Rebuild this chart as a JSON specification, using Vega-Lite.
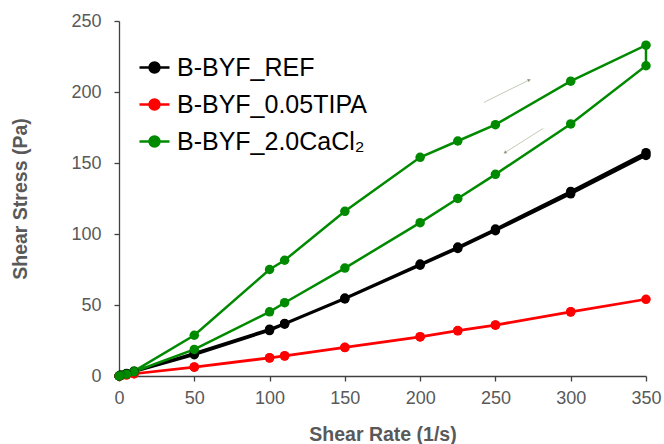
{
  "$schema": "https://vega.github.io/schema/vega-lite/v6.json",
  "width": 527,
  "height": 355,
  "autosize": {"type": "none"},
  "padding": {"left": 119, "top": 21, "right": 18, "bottom": 68},
  "background": "white",
  "config": {
    "view": {"stroke": null},
    "font": "Liberation Sans",
    "axis": {
      "grid": false,
      "labelFlush": false,
      "domainColor": "#404040",
      "domainWidth": 1.3,
      "tickColor": "#404040",
      "tickWidth": 1.3,
      "tickSize": 5,
      "labelFont": "Liberation Sans",
      "labelFontSize": 18,
      "labelColor": "#595959",
      "titleFont": "Liberation Sans",
      "titleFontSize": 19.5,
      "titleFontWeight": "bold",
      "titleColor": "#595959"
    }
  },
  "datasets": {
    "curves": [
      {"series": "B-BYF_REF", "order": 1, "x": 0.1, "y": 0},
      {"series": "B-BYF_REF", "order": 2, "x": 1, "y": 0.5},
      {"series": "B-BYF_REF", "order": 3, "x": 5, "y": 1.6},
      {"series": "B-BYF_REF", "order": 4, "x": 10, "y": 3},
      {"series": "B-BYF_REF", "order": 5, "x": 50, "y": 15},
      {"series": "B-BYF_REF", "order": 6, "x": 100, "y": 32},
      {"series": "B-BYF_REF", "order": 7, "x": 110, "y": 36.5},
      {"series": "B-BYF_REF", "order": 8, "x": 150, "y": 54.3},
      {"series": "B-BYF_REF", "order": 9, "x": 200, "y": 78},
      {"series": "B-BYF_REF", "order": 10, "x": 225, "y": 89.8},
      {"series": "B-BYF_REF", "order": 11, "x": 250, "y": 102.3},
      {"series": "B-BYF_REF", "order": 12, "x": 300, "y": 128.3},
      {"series": "B-BYF_REF", "order": 13, "x": 350, "y": 155.3},
      {"series": "B-BYF_REF", "order": 14, "x": 350, "y": 157.3},
      {"series": "B-BYF_REF", "order": 15, "x": 300, "y": 130},
      {"series": "B-BYF_REF", "order": 16, "x": 250, "y": 103.5},
      {"series": "B-BYF_REF", "order": 17, "x": 225, "y": 90.8},
      {"series": "B-BYF_REF", "order": 18, "x": 200, "y": 78.8},
      {"series": "B-BYF_REF", "order": 19, "x": 150, "y": 54.9},
      {"series": "B-BYF_REF", "order": 20, "x": 110, "y": 37},
      {"series": "B-BYF_REF", "order": 21, "x": 100, "y": 33},
      {"series": "B-BYF_REF", "order": 22, "x": 50, "y": 16},
      {"series": "B-BYF_REF", "order": 23, "x": 10, "y": 3.2},
      {"series": "B-BYF_REF", "order": 24, "x": 5, "y": 1.7},
      {"series": "B-BYF_REF", "order": 25, "x": 1, "y": 0.5},
      {"series": "B-BYF_REF", "order": 26, "x": 0.1, "y": 0},

      {"series": "B-BYF_0.05TIPA", "order": 1, "x": 0.1, "y": 0},
      {"series": "B-BYF_0.05TIPA", "order": 2, "x": 1, "y": 0.2},
      {"series": "B-BYF_0.05TIPA", "order": 3, "x": 5, "y": 0.8},
      {"series": "B-BYF_0.05TIPA", "order": 4, "x": 10, "y": 1.6},
      {"series": "B-BYF_0.05TIPA", "order": 5, "x": 50, "y": 6.2},
      {"series": "B-BYF_0.05TIPA", "order": 6, "x": 100, "y": 12.6},
      {"series": "B-BYF_0.05TIPA", "order": 7, "x": 110, "y": 14},
      {"series": "B-BYF_0.05TIPA", "order": 8, "x": 150, "y": 20},
      {"series": "B-BYF_0.05TIPA", "order": 9, "x": 200, "y": 27.5},
      {"series": "B-BYF_0.05TIPA", "order": 10, "x": 225, "y": 31.8},
      {"series": "B-BYF_0.05TIPA", "order": 11, "x": 250, "y": 35.8},
      {"series": "B-BYF_0.05TIPA", "order": 12, "x": 300, "y": 45},
      {"series": "B-BYF_0.05TIPA", "order": 13, "x": 350, "y": 54},
      {"series": "B-BYF_0.05TIPA", "order": 14, "x": 300, "y": 45.3},
      {"series": "B-BYF_0.05TIPA", "order": 15, "x": 250, "y": 36},
      {"series": "B-BYF_0.05TIPA", "order": 16, "x": 225, "y": 32},
      {"series": "B-BYF_0.05TIPA", "order": 17, "x": 200, "y": 27.7},
      {"series": "B-BYF_0.05TIPA", "order": 18, "x": 150, "y": 20.2},
      {"series": "B-BYF_0.05TIPA", "order": 19, "x": 110, "y": 14.3},
      {"series": "B-BYF_0.05TIPA", "order": 20, "x": 100, "y": 12.9},
      {"series": "B-BYF_0.05TIPA", "order": 21, "x": 50, "y": 6.4},
      {"series": "B-BYF_0.05TIPA", "order": 22, "x": 10, "y": 1.6},
      {"series": "B-BYF_0.05TIPA", "order": 23, "x": 5, "y": 0.8},
      {"series": "B-BYF_0.05TIPA", "order": 24, "x": 1, "y": 0.2},
      {"series": "B-BYF_0.05TIPA", "order": 25, "x": 0.1, "y": 0},

      {"series": "B-BYF_2.0CaCl₂", "order": 1, "x": 0.1, "y": 0},
      {"series": "B-BYF_2.0CaCl₂", "order": 2, "x": 1, "y": 0.5},
      {"series": "B-BYF_2.0CaCl₂", "order": 3, "x": 5, "y": 1.6},
      {"series": "B-BYF_2.0CaCl₂", "order": 4, "x": 10, "y": 3.5},
      {"series": "B-BYF_2.0CaCl₂", "order": 5, "x": 50, "y": 28.7},
      {"series": "B-BYF_2.0CaCl₂", "order": 6, "x": 100, "y": 75},
      {"series": "B-BYF_2.0CaCl₂", "order": 7, "x": 110, "y": 81.5},
      {"series": "B-BYF_2.0CaCl₂", "order": 8, "x": 150, "y": 116},
      {"series": "B-BYF_2.0CaCl₂", "order": 9, "x": 200, "y": 154},
      {"series": "B-BYF_2.0CaCl₂", "order": 10, "x": 225, "y": 165.5},
      {"series": "B-BYF_2.0CaCl₂", "order": 11, "x": 250, "y": 177},
      {"series": "B-BYF_2.0CaCl₂", "order": 12, "x": 300, "y": 207.6},
      {"series": "B-BYF_2.0CaCl₂", "order": 13, "x": 350, "y": 233},
      {"series": "B-BYF_2.0CaCl₂", "order": 14, "x": 350, "y": 218.5},
      {"series": "B-BYF_2.0CaCl₂", "order": 15, "x": 300, "y": 177.5},
      {"series": "B-BYF_2.0CaCl₂", "order": 16, "x": 250, "y": 142},
      {"series": "B-BYF_2.0CaCl₂", "order": 17, "x": 225, "y": 125},
      {"series": "B-BYF_2.0CaCl₂", "order": 18, "x": 200, "y": 108},
      {"series": "B-BYF_2.0CaCl₂", "order": 19, "x": 150, "y": 76},
      {"series": "B-BYF_2.0CaCl₂", "order": 20, "x": 110, "y": 51.6},
      {"series": "B-BYF_2.0CaCl₂", "order": 21, "x": 100, "y": 45.2},
      {"series": "B-BYF_2.0CaCl₂", "order": 22, "x": 50, "y": 18.7},
      {"series": "B-BYF_2.0CaCl₂", "order": 23, "x": 10, "y": 3},
      {"series": "B-BYF_2.0CaCl₂", "order": 24, "x": 5, "y": 1.3},
      {"series": "B-BYF_2.0CaCl₂", "order": 25, "x": 1, "y": 0.4},
      {"series": "B-BYF_2.0CaCl₂", "order": 26, "x": 0.1, "y": 0}
    ],
    "arrows": [
      {"x": 242.4, "y": 192.7, "x2": 272.5, "y2": 208.5, "angle": 64},
      {"x": 281.7, "y": 174.4, "x2": 256.3, "y2": 157.3, "angle": 237}
    ]
  },
  "layer": [
    {
      "data": {"name": "arrows"},
      "mark": {"type": "rule", "color": "#c3cbb5", "strokeWidth": 1},
      "encoding": {
        "x": {"field": "x", "type": "quantitative", "scale": {"domain": [0, 350]}},
        "y": {"field": "y", "type": "quantitative", "scale": {"domain": [0, 250]}},
        "x2": {"field": "x2"},
        "y2": {"field": "y2"}
      }
    },
    {
      "data": {"name": "arrows"},
      "mark": {"type": "point", "shape": "triangle-up", "filled": true, "color": "#6b7a55", "size": 14},
      "encoding": {
        "x": {"field": "x2", "type": "quantitative"},
        "y": {"field": "y2", "type": "quantitative"},
        "angle": {"field": "angle", "type": "quantitative", "scale": null}
      }
    },
    {
      "data": {"name": "curves"},
      "mark": {"type": "line", "strokeWidth": 2.5, "point": {"filled": true, "size": 90}},
      "encoding": {
        "x": {
          "field": "x", "type": "quantitative",
          "scale": {"domain": [0, 350], "nice": false},
          "axis": {"values": [0, 50, 100, 150, 200, 250, 300, 350], "labelPadding": 8, "title": "Shear Rate (1/s)", "titlePadding": 18}
        },
        "y": {
          "field": "y", "type": "quantitative",
          "scale": {"domain": [0, 250], "nice": false},
          "axis": {"values": [0, 50, 100, 150, 200, 250], "labelPadding": 13, "title": "Shear Stress (Pa)", "titlePadding": 40}
        },
        "order": {"field": "order", "type": "quantitative"},
        "color": {
          "field": "series", "type": "nominal",
          "scale": {"domain": ["B-BYF_REF", "B-BYF_0.05TIPA", "B-BYF_2.0CaCl₂"], "range": ["#000000", "#ff0000", "#008a00"]},
          "legend": {
            "orient": "none",
            "legendX": 19,
            "legendY": 30,
            "title": null,
            "symbolType": "M-1,0H1M0.33,0A0.33,0.33 0 1 1 -0.33,0A0.33,0.33 0 1 1 0.33,0Z",
            "symbolSize": 900,
            "symbolStrokeWidth": 2.5,
            "labelFont": "Liberation Sans",
            "labelFontSize": 25,
            "labelLimit": 0,
            "labelColor": "#000000",
            "labelOffset": 6,
            "rowPadding": 7
          }
        }
      }
    }
  ]
}
